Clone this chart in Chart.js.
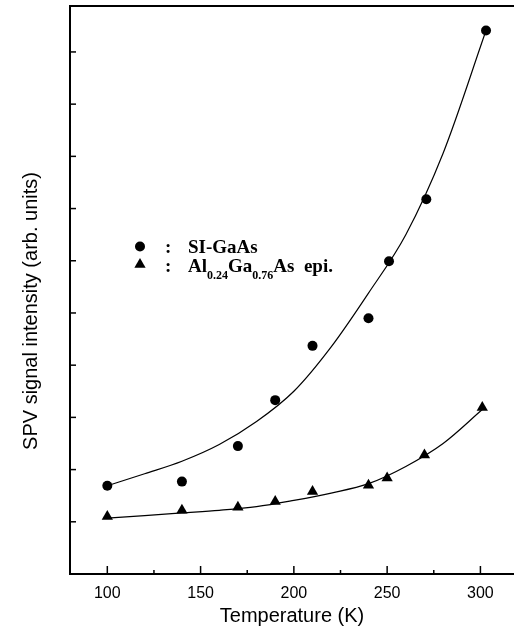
<!DOCTYPE html>
<html>
<head>
<meta charset="utf-8">
<script src="https://cdn.jsdelivr.net/npm/chart.js@4.4.0/dist/chart.umd.min.js"></script>
<style>
  html, body { margin: 0; padding: 0; background: #fff; }
  canvas { display: block; }
</style>
</head>
<body>
<canvas id="spvChart" width="514" height="632"></canvas>
<script>
// measured points
const siTemps = [100, 140, 170, 190, 210, 240, 251, 271, 303];
const siValues = [1.69, 1.77, 2.45, 3.33, 4.37, 4.90, 5.99, 7.18, 10.41];
const alTemps = [100, 140, 170, 190, 210, 240, 250, 270, 301];
const alValues = [1.10, 1.22, 1.28, 1.39, 1.58, 1.70, 1.84, 2.28, 3.19];

// fit curves, every 20 K
const siFitTemps = [100, 120, 140, 160, 180, 200, 220, 240, 260, 280, 303];
const siFitValues = [1.69, 1.92, 2.16, 2.48, 2.92, 3.50, 4.35, 5.38, 6.50, 8.06, 10.41];
const alFitTemps = [100, 120, 140, 160, 180, 200, 220, 240, 260, 280, 301];
const alFitValues = [1.07, 1.12, 1.17, 1.22, 1.29, 1.41, 1.55, 1.73, 2.06, 2.50, 3.15];

const xTicks = [100, 125, 150, 175, 200, 225, 250, 275, 300];
const yTicks = [1, 2, 3, 4, 5, 6, 7, 8, 9, 10];

const pairs = (xs, ys) => xs.map((x, i) => ({ x, y: ys[i] }));

// ticks pointing into the plot + top frame line
const inwardTicks = {
  id: 'inwardTicks',
  afterDraw(chart) {
    const { ctx, chartArea, scales } = chart;
    ctx.save();
    ctx.strokeStyle = '#000';
    ctx.lineWidth = 1.5;
    scales.x.ticks.forEach(t => {
      const px = scales.x.getPixelForValue(t.value);
      const len = t.value % 50 === 0 ? 8 : 4;
      ctx.beginPath();
      ctx.moveTo(px, chartArea.bottom);
      ctx.lineTo(px, chartArea.bottom - len);
      ctx.stroke();
    });
    scales.y.ticks.forEach(t => {
      const py = scales.y.getPixelForValue(t.value);
      ctx.beginPath();
      ctx.moveTo(chartArea.left, py);
      ctx.lineTo(chartArea.left + 6, py);
      ctx.stroke();
    });
    ctx.lineWidth = 2;
    ctx.beginPath();
    ctx.moveTo(chartArea.left - 1, chartArea.top);
    ctx.lineTo(chartArea.right, chartArea.top);
    ctx.stroke();
    ctx.restore();
  }
};

// y title + legend drawn as text
const labels = {
  id: 'labels',
  afterDraw(chart) {
    const { ctx } = chart;
    ctx.save();
    ctx.fillStyle = '#000';

    ctx.translate(31, 311);
    ctx.rotate(-Math.PI / 2);
    ctx.font = '20px "Liberation Sans", Arial, sans-serif';
    ctx.textAlign = 'center';
    ctx.textBaseline = 'middle';
    ctx.fillText('SPV signal intensity (arb. units)', 0, 0);
    ctx.setTransform(1, 0, 0, 1, 0, 0);

    // markers
    ctx.beginPath();
    ctx.arc(140, 246.5, 5, 0, Math.PI * 2);
    ctx.fill();
    const r = 6.5, cx = 140, cy = 264.5;
    ctx.beginPath();
    ctx.moveTo(cx, cy - r);
    ctx.lineTo(cx + r * Math.sin(2 * Math.PI / 3), cy - r * Math.cos(2 * Math.PI / 3));
    ctx.lineTo(cx + r * Math.sin(4 * Math.PI / 3), cy - r * Math.cos(4 * Math.PI / 3));
    ctx.closePath();
    ctx.fill();

    const big = 'bold 19px "Liberation Serif", "Times New Roman", serif';
    const small = 'bold 12px "Liberation Serif", "Times New Roman", serif';
    ctx.textAlign = 'left';
    ctx.textBaseline = 'alphabetic';
    ctx.font = big;
    ctx.fillText(':', 165, 253);
    ctx.fillText(':', 165, 272);
    ctx.fillText('SI-GaAs', 188, 253);

    let x = 188;
    const parts = [['Al', big, 272], ['0.24', small, 279], ['Ga', big, 272], ['0.76', small, 279], ['As  epi.', big, 272]];
    parts.forEach(([txt, font, base]) => {
      ctx.font = font;
      ctx.fillText(txt, x, base);
      x += ctx.measureText(txt).width;
    });
    ctx.restore();
  }
};

new Chart(document.getElementById('spvChart'), {
  type: 'scatter',
  data: {
    datasets: [
      {
        label: 'SI-GaAs',
        data: pairs(siTemps, siValues),
        pointStyle: 'circle',
        pointRadius: 5,
        backgroundColor: '#000',
        borderColor: '#000',
        borderWidth: 0
      },
      {
        label: 'Al0.24Ga0.76As epi.',
        data: pairs(alTemps, alValues),
        pointStyle: 'triangle',
        pointRadius: 6.5,
        backgroundColor: '#000',
        borderColor: '#000',
        borderWidth: 0
      },
      {
        label: 'SI-GaAs fit',
        type: 'line',
        data: pairs(siFitTemps, siFitValues),
        borderColor: '#000',
        borderWidth: 1.2,
        pointRadius: 0,
        cubicInterpolationMode: 'monotone',
        fill: false
      },
      {
        label: 'AlGaAs fit',
        type: 'line',
        data: pairs(alFitTemps, alFitValues),
        borderColor: '#000',
        borderWidth: 1.2,
        pointRadius: 0,
        cubicInterpolationMode: 'monotone',
        fill: false
      }
    ]
  },
  options: {
    responsive: false,
    animation: false,
    layout: { autoPadding: false, padding: { top: 6, right: 0, left: 0, bottom: 0 } },
    plugins: {
      legend: { display: false },
      tooltip: { enabled: false }
    },
    scales: {
      x: {
        type: 'linear',
        min: 80,
        max: 318,
        afterBuildTicks: scale => { scale.ticks = xTicks.map(v => ({ value: v })); },
        afterFit: scale => { scale.height = 58; },
        grid: { display: false },
        border: { display: true, color: '#000', width: 2 },
        ticks: {
          color: '#000',
          padding: 2,
          autoSkip: false,
          maxRotation: 0,
          font: { family: '"Liberation Sans", Arial, sans-serif', size: 16 },
          callback: v => (v % 50 === 0 ? v : '')
        },
        title: {
          display: true,
          text: 'Temperature (K)',
          color: '#000',
          padding: { top: 8 },
          font: { family: '"Liberation Sans", Arial, sans-serif', size: 20 }
        }
      },
      y: {
        type: 'linear',
        min: 0,
        max: 10.88,
        afterBuildTicks: scale => { scale.ticks = yTicks.map(v => ({ value: v })); },
        afterFit: scale => { scale.width = 70; },
        grid: { display: false },
        border: { display: true, color: '#000', width: 2 },
        ticks: { display: false }
      }
    }
  },
  plugins: [inwardTicks, labels]
});
</script>
</body>
</html>
